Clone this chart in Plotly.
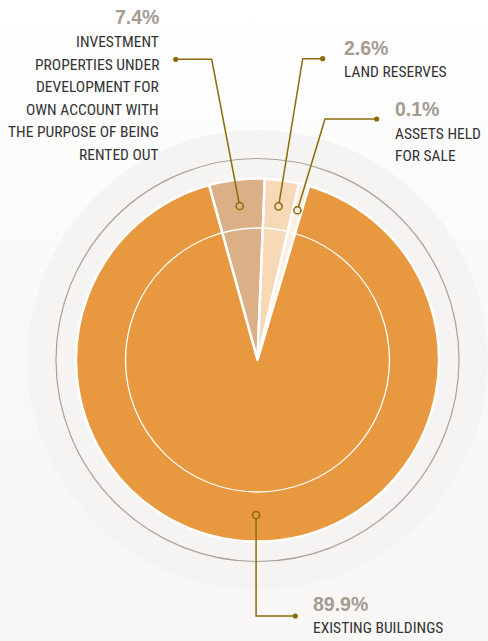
import numpy as np
import plotly.graph_objects as go

# ---------------- data ----------------
categories = [
    "INVESTMENT PROPERTIES UNDER DEVELOPMENT FOR OWN ACCOUNT WITH THE PURPOSE OF BEING RENTED OUT",
    "LAND RESERVES",
    "ASSETS HELD FOR SALE",
    "EXISTING BUILDINGS",
]
label_lines = [
    ["INVESTMENT", "PROPERTIES UNDER", "DEVELOPMENT FOR", "OWN ACCOUNT WITH",
     "THE PURPOSE OF BEING", "RENTED OUT"],
    ["LAND RESERVES"],
    ["ASSETS HELD", "FOR SALE"],
    ["EXISTING BUILDINGS"],
]
shares = [7.4, 2.6, 0.1, 89.9]               # values printed on the chart (%)
# slice sizes as drawn in the original (small slices enlarged by the designer),
# read from the slice angles in the picture
drawn_sizes = [4.95, 3.05, 0.90, 91.10]
colors = ["#DBB087", "#F7D9B7", "#FBEEE3", "#E8983E"]

# ---------------- layout constants (pixels) ----------------
W, H = 488, 641
CX, CY = 257.5, 360.0
R_PIE = 181.5
R_INNER = 132.0
R_RING = 201.5
R_BG = 230.0
R_DOT = 155.0
START_ANGLE = -15.5   # degrees, clockwise from 12 o'clock

GOLD = "#8A6C08"
PCT_COLOR = "#A59B91"
TXT_COLOR = "#333333"
LABEL_FONT = "Roboto Condensed, Liberation Sans Narrow, Roboto, sans-serif"
PCT_FONT = "Liberation Sans, Arial, sans-serif"

# label layout: anchor x, alignment, pct y, first line y, line spacing,
# leader elbow, solid-dot position (None x for elbow -> use dot x)
label_layout = [
    dict(x=161.0, side="right", pct_y=17.0, line_y=42.0, dy=22.5,
         elbow=(211.7, 59.3), end=(175.7, 59.3)),
    dict(x=341.5, side="left", pct_y=48.0, line_y=71.5, dy=22.5,
         elbow=(302.7, 58.7), end=(322.7, 58.7)),
    dict(x=392.5, side="left", pct_y=109.0, line_y=134.0, dy=22.0,
         elbow=(325.0, 119.0), end=(376.7, 119.0)),
    dict(x=311.0, side="left", pct_y=604.0, line_y=628.0, dy=22.5,
         elbow=(None, 616.0), end=(295.3, 616.0)),
]

fig = go.Figure()

# page gradient background
fig.add_trace(go.Scatter(
    x=[0, W, W, 0, 0], y=[0, 0, H, H, 0], mode="none", fill="toself",
    fillgradient=dict(type="vertical", colorscale=[[0, "#FFFFFF"], [0.55, "#F9F8F7"], [1, "#F8F7F5"]],
                      start=0, stop=H),
    hoverinfo="skip", showlegend=False))

# light background disc
t = np.linspace(0, 2 * np.pi, 361)
fig.add_trace(go.Scatter(
    x=CX + R_BG * np.cos(t), y=CY + R_BG * np.sin(t), mode="none", fill="toself",
    fillcolor="#F5F4F2", hoverinfo="skip", showlegend=False))

# pie
fig.add_trace(go.Pie(
    values=drawn_sizes, labels=categories, sort=False, direction="clockwise",
    rotation=START_ANGLE,
    marker=dict(colors=colors, line=dict(color="white", width=2.5)),
    textinfo="none", hoverinfo="skip", showlegend=False,
    domain=dict(x=[(CX - R_PIE) / W, (CX + R_PIE) / W],
                y=[1 - (CY + R_PIE) / H, 1 - (CY - R_PIE) / H]),
))

shapes = []
# outer thin ring
shapes.append(dict(type="circle", xref="x", yref="y", layer="above",
                   x0=CX - R_RING, x1=CX + R_RING, y0=CY - R_RING, y1=CY + R_RING,
                   line=dict(color="#A9A19A", width=1.2)))
# inner white circle
shapes.append(dict(type="circle", xref="x", yref="y", layer="above",
                   x0=CX - R_INNER, x1=CX + R_INNER, y0=CY - R_INNER, y1=CY + R_INNER,
                   line=dict(color="white", width=1.3)))

# slice midpoints from pie values
total = float(sum(drawn_sizes))
cum = START_ANGLE
annotations = []
for i, v in enumerate(drawn_sizes):
    span = 360.0 * v / total
    mid = np.deg2rad(cum + span / 2)
    cum += span
    dx = CX + R_DOT * np.sin(mid)
    dy = CY - R_DOT * np.cos(mid)
    L = label_layout[i]
    ex, ey = L["elbow"]
    if ex is None:
        ex = dx
    sx, sy = L["end"]
    shapes.append(dict(type="path", xref="x", yref="y", layer="above",
                       path=f"M {dx:.2f},{dy:.2f} L {ex:.2f},{ey:.2f} L {sx:.2f},{sy:.2f}",
                       line=dict(color=GOLD, width=1.5)))
    shapes.append(dict(type="circle", xref="x", yref="y", layer="above",
                       x0=dx - 3.6, x1=dx + 3.6, y0=dy - 3.6, y1=dy + 3.6,
                       fillcolor=colors[i], line=dict(color=GOLD, width=1.5)))
    shapes.append(dict(type="circle", xref="x", yref="y", layer="above",
                       x0=sx - 2.6, x1=sx + 2.6, y0=sy - 2.6, y1=sy + 2.6,
                       fillcolor=GOLD, line=dict(color=GOLD, width=0)))
    anchor = L["side"]
    annotations.append(dict(
        x=L["x"], y=L["pct_y"], xref="x", yref="y", text=f"{shares[i]:.1f}%",
        showarrow=False, xanchor=anchor, yanchor="middle", align=anchor,
        font=dict(family=PCT_FONT, size=19.5, color=PCT_COLOR, weight=700)))
    for k, line in enumerate(label_lines[i]):
        annotations.append(dict(
            x=L["x"], y=L["line_y"] + k * L["dy"], xref="x", yref="y", text=line,
            showarrow=False, xanchor=anchor, yanchor="middle", align=anchor,
            font=dict(family=LABEL_FONT, size=15.5, color=TXT_COLOR)))

fig.update_layout(
    width=W, height=H, margin=dict(l=0, r=0, t=0, b=0),
    paper_bgcolor="#FBFAF9", plot_bgcolor="rgba(0,0,0,0)",
    xaxis=dict(range=[0, W], visible=False, fixedrange=True, domain=[0, 1]),
    yaxis=dict(range=[H, 0], visible=False, fixedrange=True, domain=[0, 1]),
    shapes=shapes, annotations=annotations, showlegend=False,
)

fig.write_html("out.html", config={"displayModeBar": False},
               post_script="document.body.style.margin='0';document.body.style.overflow='hidden';")
